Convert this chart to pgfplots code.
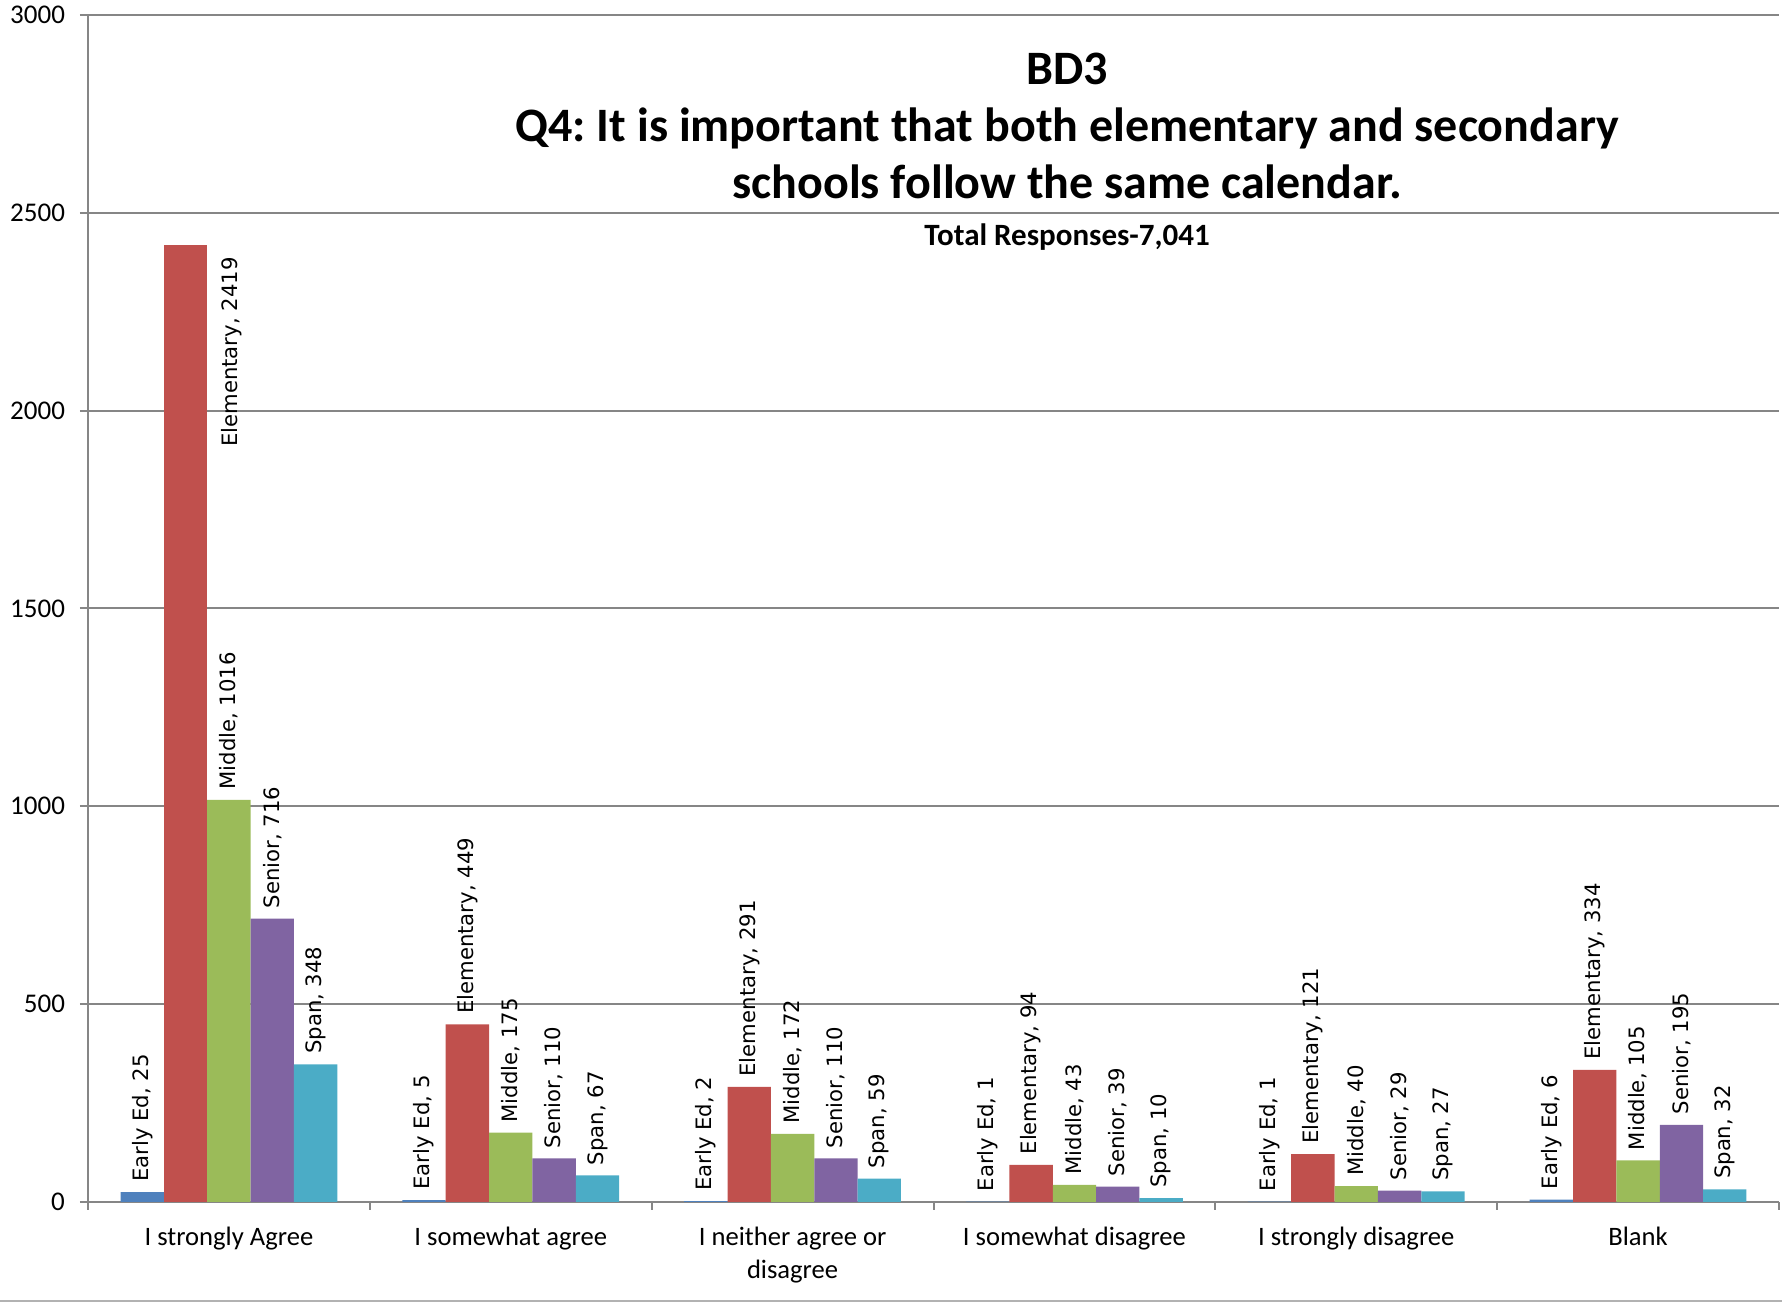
\documentclass[border=0pt]{standalone}
\usepackage{fontspec}
\setmainfont{Carlito}
\newfontfamily\dejavu{DejaVu Sans}
\usepackage{pgfplots}
\pgfplotsset{compat=1.18}
\definecolor{c1}{HTML}{4F81BD}
\definecolor{c2}{HTML}{C0504D}
\definecolor{c3}{HTML}{9BBB59}
\definecolor{c4}{HTML}{8064A2}
\definecolor{c5}{HTML}{4BACC6}
\definecolor{gridgray}{HTML}{868686}
\frenchspacing
\begin{document}
\begin{tikzpicture}
\begin{axis}[
  name=ax,
  scale only axis, width=845.5pt, height=593.6pt,
  xmin=-0.5, xmax=5.5, ymin=0, ymax=3000,
  ytick={0,500,...,3000},
  xtick={0,...,5},
  xticklabels={I strongly Agree, I somewhat agree, {I neither agree or\\disagree}, I somewhat disagree, I strongly disagree, Blank},
  xticklabel style={align=center, font=\fontsize{13.3}{16.5}\selectfont, yshift=-5pt},
  minor xtick={-0.5,0.5,...,5.5},
  axis x line*=bottom, axis y line*=left,
  axis line style={gridgray, line width=1pt},
  ymajorgrids, major grid style={gridgray, line width=1pt},
  tick align=outside,
  major tick length=4pt, minor tick length=4pt,
  major x tick style={draw=none},
  minor x tick style={gridgray, line width=1pt},
  major y tick style={gridgray, line width=1pt},
  yticklabel style={font=\fontsize{13.5}{15}\selectfont, xshift=-4pt},
  /pgf/number format/assume math mode=true,
  /pgf/number format/1000 sep={},
  ybar, bar width=0.1538,
  nodes near coords style={font=\dejavu\fontsize{10.6}{12}\selectfont, rotate=90, anchor=west, inner xsep=5pt, inner ysep=0pt, text=black},
  clip=false,
]
\addplot[fill=c1, draw=none, bar shift=-0.3076, nodes near coords={Early Ed, \pgfmathprintnumber{\pgfplotspointmeta}}]
  coordinates {(0,25) (1,5) (2,2) (3,1) (4,1) (5,6)};
\addplot[fill=c2, draw=none, bar shift=-0.1538]
  coordinates {(0,2419)};
\addplot[fill=c2, draw=none, bar shift=-0.1538, nodes near coords={Elementary, \pgfmathprintnumber{\pgfplotspointmeta}}]
  coordinates {(1,449) (2,291) (3,94) (4,121) (5,334)};
\addplot[fill=c3, draw=none, bar shift=0, nodes near coords={Middle, \pgfmathprintnumber{\pgfplotspointmeta}}]
  coordinates {(0,1016) (1,175) (2,172) (3,43) (4,40) (5,105)};
\addplot[fill=c4, draw=none, bar shift=0.1538, nodes near coords={Senior, \pgfmathprintnumber{\pgfplotspointmeta}}]
  coordinates {(0,716) (1,110) (2,110) (3,39) (4,29) (5,195)};
\addplot[fill=c5, draw=none, bar shift=0.3076, nodes near coords={Span, \pgfmathprintnumber{\pgfplotspointmeta}}]
  coordinates {(0,348) (1,67) (2,59) (3,10) (4,27) (5,32)};
\node[rotate=90, anchor=east, inner sep=0pt, font=\dejavu\fontsize{10.6}{12}\selectfont] at (axis cs:0.011,2388) {Elementary, 2419};
\node[anchor=base, font=\bfseries\fontsize{24}{29}\selectfont] at ([yshift=-35.1pt]rel axis cs:0.579,1) {BD3};
\node[anchor=base, font=\bfseries\fontsize{24}{29}\selectfont] at ([yshift=-63.6pt]rel axis cs:0.579,1) {Q4: It is important that both elementary and secondary};
\node[anchor=base, font=\bfseries\fontsize{24}{29}\selectfont] at ([yshift=-92.1pt]rel axis cs:0.579,1) {schools follow the same calendar.};
\node[anchor=base, font=\bfseries\fontsize{15.5}{18}\selectfont] at ([yshift=-115.35pt]rel axis cs:0.579,1) {Total Responses-7,041};
\end{axis}
\pgfresetboundingbox
\coordinate (bl) at ([xshift=-44pt,yshift=-50pt]ax.south west);
\path[use as bounding box] (bl) rectangle ([xshift=1.5pt,yshift=7.4pt]ax.north east);
\draw[gray!60, line width=1pt] ([yshift=0.5pt]bl) -- ++(891pt,0);
\end{tikzpicture}
\end{document}
